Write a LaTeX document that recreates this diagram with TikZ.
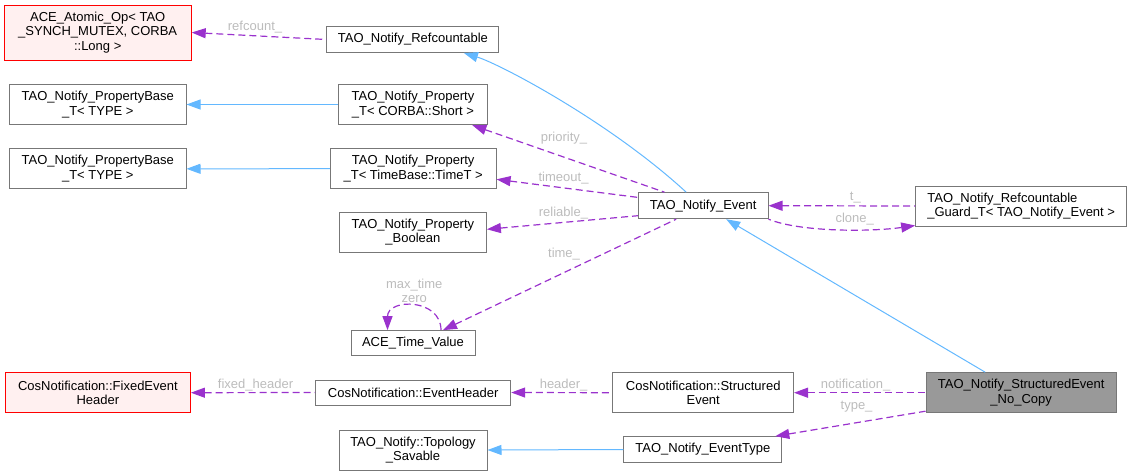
\documentclass[tikz,border=0pt]{standalone}
\usepackage{fontspec}
\setmainfont{Liberation Sans}
\usetikzlibrary{arrows.meta}
\definecolor{boxgray}{HTML}{777777}
\definecolor{extfill}{HTML}{FFF0F0}
\definecolor{curfill}{HTML}{999999}
\definecolor{inhblue}{HTML}{63B8FF}
\definecolor{usepurple}{HTML}{9A32CD}
\definecolor{labgray}{HTML}{BCBCBC}
\begin{document}
\begin{tikzpicture}[x=1pt,y=-1pt,font=\fontsize{13}{14.5}\selectfont,
  box/.style={draw=boxgray,fill=white,line width=1pt,align=center,inner sep=0pt},
  extbox/.style={box,draw=red,fill=extfill},
  curbox/.style={box,fill=curfill},
  inh/.style={draw=inhblue,line width=1pt,{Triangle[length=14pt,width=10pt]}-},
  usage/.style={draw=usepurple,line width=1.2pt,dash pattern=on 7pt off 4pt,
    {Triangle[length=14pt,width=10pt]}-},
  elab/.style={text=labgray,inner sep=1pt}]
\useasboundingbox (0,0) rectangle (1132,475);
% classes
\node[extbox,minimum width=187,minimum height=55] (atomic) at (97.7,32.5)
  {ACE\_Atomic\_Op< TAO\\\_SYNCH\_MUTEX, CORBA\\::Long >};
\node[box,minimum width=172,minimum height=26] (refc) at (412.9,39.5) {TAO\_Notify\_Refcountable};
\node[box,minimum width=176.4,minimum height=40.4] (pbase1) at (97.8,104.5)
  {TAO\_Notify\_PropertyBase\\\_T< TYPE >};
\node[box,minimum width=149.7,minimum height=40.4] (pshort) at (413,104.5)
  {TAO\_Notify\_Property\\\_T< CORBA::Short >};
\node[box,minimum width=176.4,minimum height=40] (pbase2) at (97.8,168.8)
  {TAO\_Notify\_PropertyBase\\\_T< TYPE >};
\node[box,minimum width=165.7,minimum height=40] (ptime) at (413.2,168.7)
  {TAO\_Notify\_Property\\\_T< TimeBase::TimeT >};
\node[box,minimum width=147,minimum height=40] (pbool) at (412.9,232.3)
  {TAO\_Notify\_Property\\\_Boolean};
\node[box,minimum width=129.6,minimum height=26] (event) at (703.2,205.7) {TAO\_Notify\_Event};
\node[box,align=left,minimum width=211,minimum height=40] (guard) at (1021.2,206)
  {TAO\_Notify\_Refcountable\\\_Guard\_T< TAO\_Notify\_Event >};
\node[box,minimum width=124,minimum height=25.3] (atime) at (413,343.3) {ACE\_Time\_Value};
\node[extbox,minimum width=185,minimum height=40] (fixhdr) at (97.9,392.7)
  {CosNotification::FixedEvent\\Header};
\node[box,minimum width=195,minimum height=25] (evhdr) at (413.2,392.5) {CosNotification::EventHeader};
\node[box,minimum width=148,minimum height=40] (topo) at (413,450)
  {TAO\_Notify::Topology\\\_Savable};
\node[box,minimum width=180.6,minimum height=40] (sevent) at (703.2,392.7)
  {CosNotification::Structured\\Event};
\node[box,minimum width=158,minimum height=25.6] (etype) at (702.8,449.5) {TAO\_Notify\_EventType};
\node[curbox,minimum width=190.4,minimum height=40] (nocopy) at (1021.2,392.7)
  {TAO\_Notify\_StructuredEvent\\\_No\_Copy};
% inheritance
\draw[inh] (pbase1.east) -- (pshort.west);
\draw[inh] (pbase2.east) -- (ptime.west);
\draw[inh] (topo.east) -- (etype.west);
\draw[inh] ([xshift=51pt]refc.south) .. controls (500,64) and (610,122) .. ([xshift=-17pt]event.north);
\draw[inh] ([xshift=23pt]event.south) -- ([xshift=-36pt]nocopy.north);
% members
\draw[usage] (atomic.east) -- node[elab,pos=.47,yshift=9pt] {refcount\_} (refc.west);
\draw[usage] (pshort) -- node[elab,pos=.477,yshift=19.4pt] {priority\_} (event);
\draw[usage] (ptime) -- node[elab,pos=.474,yshift=10.2pt] {timeout\_} (event);
\draw[usage] ([yshift=3pt]pbool.east) -- node[elab,pos=.507,yshift=9.1pt] {reliable\_}
  ([yshift=-10pt]event.west);
\draw[usage] ([xshift=30pt]atime.north) -- node[elab,pos=.519,yshift=18.6pt] {time\_}
  ([xshift=-27pt]event.south);
\draw[usage] ([xshift=-25.5pt]atime.north) .. controls +(0,-32) and +(0,-32) ..
  node[elab,align=center,pos=.5,yshift=15.4pt] {max\_time\\zero} ([xshift=28pt]atime.north);
\draw[usage] (event.east) -- node[elab,pos=.592,yshift=8pt] {t\_} (guard.west);
\draw[usage] ([yshift=1pt]guard.south west) .. controls (870,232) and (800,232) ..
  node[elab,pos=.39,yshift=10.6pt] {clone\_} (event.south east);
\draw[usage] (fixhdr.east) -- node[elab,pos=.52,yshift=7.7pt] {fixed\_header} (evhdr.west);
\draw[usage] (evhdr.east) -- node[elab,pos=.518,yshift=7.6pt] {header\_} (sevent.west);
\draw[usage] (sevent.east) -- node[elab,pos=.468,yshift=7.7pt] {notification\_} (nocopy.west);
\draw[usage] ([xshift=-7pt]etype.north east) -- node[elab,pos=.541,yshift=15.9pt] {type\_}
  ([yshift=2pt]nocopy.south west);
\end{tikzpicture}
\end{document}
